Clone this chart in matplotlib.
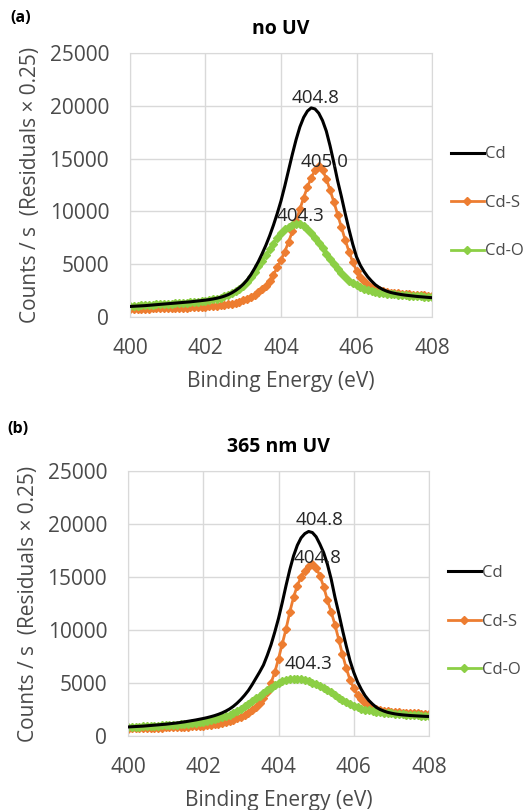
import numpy as np
import matplotlib
matplotlib.use("Agg")
import matplotlib.pyplot as plt

plt.rcParams['font.family'] = ['Open Sans', 'DejaVu Sans']

# binding energy grid (eV), 0.1 eV steps
energy = np.linspace(400, 408, 81)

# (a) no UV
cd_a = [1000, 1020, 1040, 1060, 1080, 1110, 1140, 1170, 1200, 1230,
        1260, 1290, 1320, 1350, 1380, 1410, 1440, 1480, 1520, 1560,
        1600, 1650, 1710, 1780, 1870, 1980, 2120, 2300, 2520, 2780,
        3100, 3500, 4000, 4600, 5250, 6000, 6800, 7700, 8700, 9800,
        11000, 12400, 13900, 15400, 16800, 18000, 18900, 19500, 19800, 19700,
        19300, 18600, 17600, 16200, 14600, 12900, 11400, 9800, 8300, 6900,
        5700, 4900, 4300, 3800, 3400, 3050, 2800, 2600, 2450, 2330,
        2250, 2180, 2120, 2070, 2030, 1990, 1950, 1920, 1890, 1860,
        1830]
cds_a = [750, 760, 770, 780, 790, 800, 810, 820, 830, 840,
         850, 860, 870, 880, 890, 900, 915, 930, 945, 960,
         980, 1000, 1030, 1060, 1100, 1150, 1210, 1280, 1370, 1470,
         1600, 1750, 1920, 2120, 2350, 2620, 2950, 3400, 4000, 4700,
         5400, 6200, 7100, 8100, 9100, 10200, 11300, 12300, 13200, 13900,
         14300, 13900, 13100, 12000, 10900, 9700, 8500, 7300, 6200, 5200,
         4400, 3800, 3400, 3050, 2800, 2650, 2520, 2430, 2360, 2300,
         2260, 2230, 2200, 2170, 2140, 2110, 2080, 2060, 2040, 2020,
         2000]
cdo_a = [1050, 1070, 1090, 1110, 1130, 1150, 1170, 1190, 1210, 1230,
         1250, 1270, 1290, 1310, 1330, 1360, 1390, 1420, 1460, 1500,
         1550, 1600, 1670, 1750, 1840, 1950, 2080, 2240, 2430, 2650,
         2950, 3350, 3800, 4300, 4800, 5300, 5850, 6400, 6950, 7500,
         7950, 8300, 8550, 8750, 8850, 8800, 8600, 8300, 7950, 7500,
         7000, 6500, 6000, 5500, 5000, 4550, 4150, 3800, 3450, 3200,
         3000, 2800, 2650, 2520, 2420, 2350, 2290, 2240, 2200, 2170,
         2140, 2110, 2080, 2050, 2020, 2000, 1980, 1960, 1940, 1920,
         1900]

# (b) 365 nm UV
cd_b = [850, 870, 890, 910, 930, 960, 990, 1020, 1050, 1080,
        1110, 1150, 1190, 1230, 1280, 1330, 1390, 1450, 1510, 1580,
        1650, 1730, 1820, 1920, 2040, 2180, 2350, 2550, 2800, 3100,
        3450, 3850, 4300, 4850, 5450, 6050, 6700, 7600, 8600, 9800,
        11100, 12600, 14200, 15700, 17000, 18000, 18700, 19100, 19300, 19200,
        18800, 18100, 17300, 16200, 14800, 13100, 11600, 10000, 8500, 7100,
        6000, 5100, 4400, 3800, 3350, 3000, 2700, 2500, 2350, 2230,
        2150, 2080, 2030, 1990, 1960, 1930, 1910, 1890, 1870, 1850,
        1840]
cds_b = [700, 710, 720, 730, 740, 750, 760, 770, 780, 790,
         800, 815, 830, 845, 860, 875, 890, 910, 930, 950,
         980, 1010, 1050, 1100, 1160, 1230, 1310, 1410, 1530, 1670,
         1830, 2000, 2200, 2450, 2750, 3100, 3550, 4150, 5000, 6000,
         7300, 8700, 10100, 11700, 13100, 14200, 15000, 15600, 16000, 16200,
         15900, 15100, 14100, 12800, 11700, 10500, 9100, 7700, 6400, 5300,
         4500, 3900, 3450, 3100, 2850, 2650, 2520, 2430, 2370, 2320,
         2280, 2250, 2220, 2200, 2180, 2160, 2150, 2140, 2120, 2110,
         2100]
cdo_b = [820, 840, 860, 880, 900, 920, 940, 960, 980, 1000,
         1020, 1040, 1060, 1080, 1110, 1140, 1170, 1210, 1250, 1300,
         1350, 1410, 1480, 1560, 1650, 1750, 1870, 2010, 2180, 2370,
         2580, 2800, 3050, 3300, 3550, 3800, 4050, 4300, 4550, 4800,
         5000, 5150, 5270, 5350, 5400, 5400, 5370, 5300, 5180, 5030,
         4880, 4700, 4520, 4330, 4130, 3850, 3600, 3380, 3180, 3000,
         2850, 2710, 2590, 2490, 2410, 2340, 2290, 2240, 2200, 2170,
         2140, 2110, 2080, 2050, 2020, 2000, 1970, 1940, 1910, 1890,
         1870]

series_names = ['Cd', 'Cd-S', 'Cd-O']
# peak labels (eV) and where they sit relative to the peak point (px)
peak_labels_a = ['404.8', '405.0', '404.3']
peak_labels_b = ['404.8', '404.8', '404.3']
label_offsets_a = [(4, 10), (6, 4), (4, 8)]
label_offsets_b = [(11, 11), (5, 6), (15, 15)]

colors = ['black', '#ED7D31', '#8CCF45']
text_grey = '#4a4a4a'

fig = plt.figure(figsize=(5.29, 8.10), dpi=100)
ax_a = fig.add_axes([0.2457, 0.6086, 0.571, 0.326])
ax_b = fig.add_axes([0.242, 0.0914, 0.569, 0.327])


def draw_panel(ax, ys, labels, offsets, title):
    for i, (y, name) in enumerate(zip(ys, series_names)):
        if i == 0:
            ax.plot(energy, y, color=colors[i], lw=2.2, label=name, zorder=3)
        else:
            ax.plot(energy, y, color=colors[i], lw=2.0, marker='D', ms=4.5,
                    label=name, zorder=2 if i == 1 else 2.5)
        k = int(np.argmax(y))
        ax.annotate(labels[i], (energy[k], y[k]),
                    xytext=(offsets[i][0] * 0.72, offsets[i][1] * 0.72),
                    textcoords='offset points', ha='center', va='center',
                    fontsize=13.5, color='#262626', zorder=5)
    ax.set_xlim(400, 408)
    ax.set_ylim(0, 25000)
    ax.set_xticks([400, 402, 404, 406, 408])
    ax.set_yticks([0, 5000, 10000, 15000, 20000, 25000])
    ax.grid(True, color='#D9D9D9', lw=1.0)
    ax.set_axisbelow(True)
    for s in ax.spines.values():
        s.set_color('#D9D9D9')
    ax.tick_params(length=0, labelsize=15, colors=text_grey)
    ax.tick_params(axis='x', pad=15)
    ax.tick_params(axis='y', pad=15)
    ax.set_xlabel('Binding Energy (eV)', fontsize=15, color=text_grey, labelpad=9)
    ax.set_ylabel('Counts / s  (Residuals \u00d7 0.25)', fontsize=15,
                  color=text_grey, labelpad=6)
    ax.set_title(title, fontsize=14, fontweight='bold', pad=14)
    ax.legend(loc='center left', bbox_to_anchor=(1.012, 0.432), frameon=False,
              numpoints=1, handlelength=2.0, handletextpad=0.05,
              labelspacing=1.95, fontsize=12, labelcolor=text_grey)


draw_panel(ax_a, [cd_a, cds_a, cdo_a], peak_labels_a, label_offsets_a, 'no UV')
draw_panel(ax_b, [cd_b, cds_b, cdo_b], peak_labels_b, label_offsets_b, '365 nm UV')

fig.text(10 / 529, 1 - 18 / 810, '(a)', fontsize=11.5, fontweight='bold', va='center')
fig.text(7 / 529, 1 - 429 / 810, '(b)', fontsize=11.5, fontweight='bold', va='center')

fig.savefig('out.png', dpi=100)
